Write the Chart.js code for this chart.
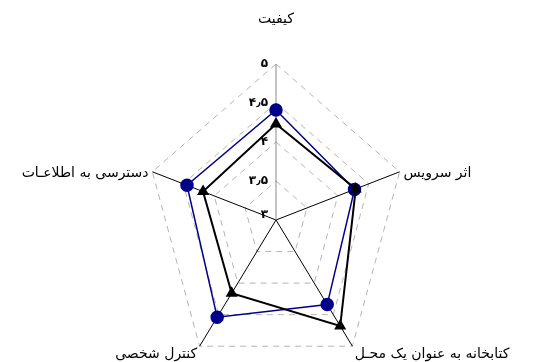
<!DOCTYPE html>
<html>
<head>
<meta charset="utf-8">
<script src="https://cdn.jsdelivr.net/npm/chart.js@4"></script>
<style>
  body { margin: 0; background: #fff; }
  #wrap { width: 533px; height: 362px; }
</style>
</head>
<body>
<div id="wrap"><canvas id="grafico"></canvas></div>
<script>
// categorias (sentido horario, comecando no topo)
const categorias = ['کیفیت', 'اثر سرویس', 'کتابخانه به عنوان یک محـل', 'کنترل شخصی', 'دسترسی به اطلاعـات']
const serieAzul = [4.41, 4.27, 4.34, 4.54, 4.44]
const seriePreta = [4.23, 4.29, 4.68, 4.16, 4.18]
const tickLabels = ['۳', '۳٫۵', '۴', '۴٫۵', '۵']

const CENTRO_X = 276
const CENTRO_Y = 220
const RAIO = 130
const ESTICA_Y = 1.2   // o grafico original e mais alto que largo
const AJUSTE_LABEL_Y = [0, 11, -4, -4, 11]

// escala radial esticada na vertical
class RadialEsticada extends Chart.RadialLinearScale {
  setCenterPoint() {
    this.xCenter = CENTRO_X
    this.yCenter = CENTRO_Y
    this.drawingArea = RAIO
  }

  fit() {
    super.fit()
    // centraliza os rotulos laterais na ponta do eixo, como no original
    ;(this._pointLabelItems || []).forEach((item, i) => {
      const dy = AJUSTE_LABEL_Y[i] || 0
      item.y += dy
      item.top += dy
      item.bottom += dy
    })
  }

  getPointPosition(index, distance, additionalAngle = 0) {
    const p = super.getPointPosition(index, distance, additionalAngle)
    return { x: p.x, y: this.yCenter + (p.y - this.yCenter) * ESTICA_Y, angle: p.angle }
  }

  drawLabels() {
    const ctx = this.ctx
    ctx.save()
    ctx.font = 'bold 12px "DejaVu Sans"'
    ctx.fillStyle = '#000'
    ctx.textAlign = 'right'
    ctx.textBaseline = 'middle'
    this.ticks.forEach((tick, i) => {
      const p = this.getPointPositionForValue(0, tick.value)
      ctx.fillText(tick.label, p.x - 8, i === 0 ? p.y - 5 : p.y)
    })
    ctx.restore()
  }
}
RadialEsticada.id = 'radialEsticada'
Chart.register(RadialEsticada)

new Chart(document.getElementById('grafico'), {
  type: 'radar',
  data: {
    labels: categorias,
    datasets: [{
      label: 'azul',
      data: serieAzul,
      borderColor: '#00008b',
      backgroundColor: '#00008b',
      borderWidth: 1.5,
      pointStyle: 'circle',
      pointRadius: 6,
      pointBackgroundColor: '#00008b',
      pointBorderColor: '#00008b',
      fill: false,
      order: 1
    }, {
      label: 'preta',
      data: seriePreta,
      borderColor: '#000',
      backgroundColor: '#000',
      borderWidth: 2,
      pointStyle: 'triangle',
      pointRadius: 5,
      pointBackgroundColor: '#000',
      pointBorderColor: '#000',
      fill: false,
      order: 0
    }]
  },
  options: {
    responsive: true,
    maintainAspectRatio: false,
    animation: false,
    elements: { line: { tension: 0 } },
    layout: { padding: 0 },
    plugins: { legend: { display: false }, tooltip: { enabled: false } },
    scales: {
      r: {
        type: 'radialEsticada',
        min: 3,
        max: 5,
        ticks: {
          stepSize: 0.5,
          display: false,
          callback: (v, i) => tickLabels[i]
        },
        grid: { color: '#b4b4b4', lineWidth: 1 },
        border: { dash: [6, 5] },
        angleLines: {
          color: ctx => ctx.index === 0 ? '#8a8a8a' : '#000',
          lineWidth: 1
        },
        pointLabels: {
          font: { family: 'DejaVu Sans', size: 14 },
          color: '#000',
          padding: ctx => ctx.index === 0 ? 30 : 4
        }
      }
    }
  }
})
</script>
</body>
</html>
